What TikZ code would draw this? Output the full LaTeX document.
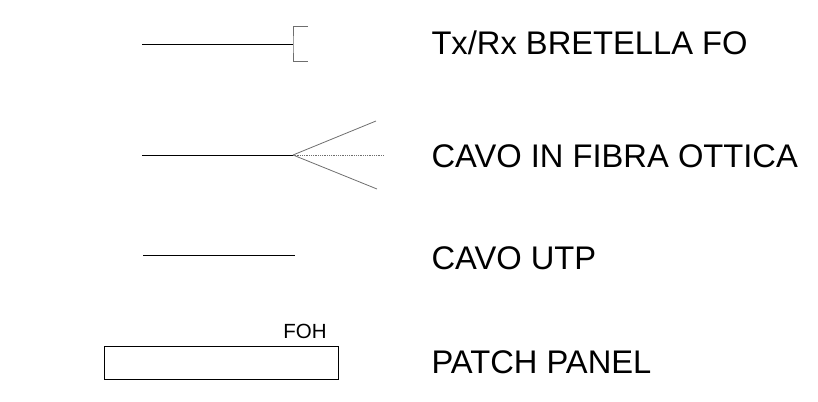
\documentclass[tikz,border=0pt]{standalone}
\usepackage{fontspec}
\setmainfont{Liberation Sans}
\usepackage{tikz}
\usetikzlibrary{positioning}
\usepackage{xcolor}
\definecolor{symgray}{HTML}{6E6E6E}

\begin{document}
\begin{tikzpicture}[x=1pt,y=-1pt,line width=1pt,
    legend/.style={anchor=west,inner sep=0pt,font=\fontsize{32.7}{38}\selectfont},
    fan/.style={symgray,line width=0.8pt}]
            \useasboundingbox (0,0) rectangle (818,401);
            % Tx/Rx bretella
            \coordinate (b_0) at (142,45);
            \coordinate (b_1) at (293,45);
            \draw (b_0) -- (b_1);
            \draw[fan] (308,26) -| (b_1) |- (308,61);
            \node[legend] (l_0) at (431,43) {Tx/Rx BRETELLA FO};
            % cavo in fibra
            \coordinate (f_0) at (142,155);
            \coordinate (f_1) at (293,155);
            \coordinate (f_2) at (376,121);
            \coordinate (f_3) at (384,155);
            \coordinate (f_4) at (377,189);
            \draw (f_0) -- (f_1);
            \draw[fan] (f_1) -- (f_2) (f_1) -- (f_4);
            \draw[fan,densely dotted] (f_1) -- (f_3);
            \node[legend] (l_1) at (431,156) {CAVO IN FIBRA OTTICA};
            % cavo utp
            \coordinate (u_0) at (143,255);
            \coordinate (u_1) at (295,255);
            \draw[line width=0.8pt] (u_0) -- (u_1);
            \node[legend] (l_2) at (431,258) {CAVO UTP};
            % patch panel
            \node[draw,line width=0.8pt,minimum width=234pt,minimum height=33pt,inner sep=0pt] (pp) at (221,362.5) {};
            \node[inner sep=0pt,font=\fontsize{20.5}{24}\selectfont] (foh) at (305,331) {FOH};
            \node[legend] (l_3) at (431,362) {PATCH PANEL};
        \end{tikzpicture}
\end{document}
